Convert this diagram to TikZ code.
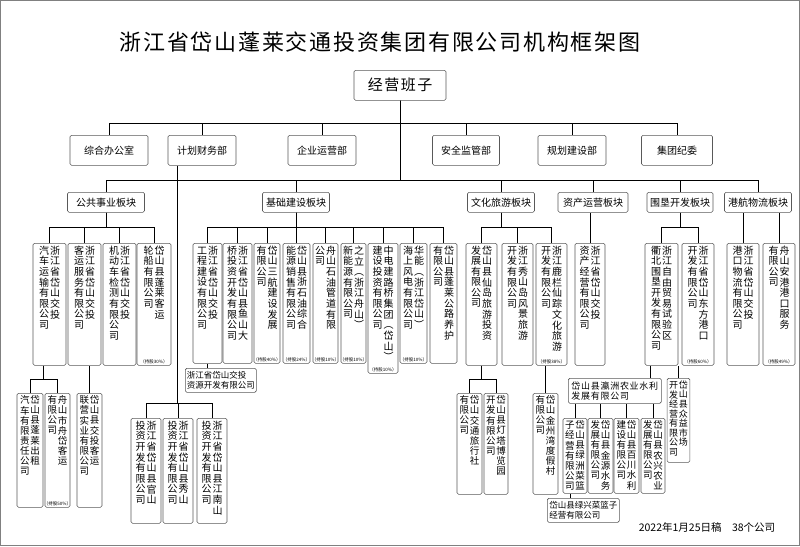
\documentclass[tikz,border=0pt]{standalone}
\usepackage{fontspec}
\setmainfont{Noto Sans CJK SC}
\usetikzlibrary{positioning}

% one vertical column of characters
\def\vcolA#1{\ifx\relax#1\else\hbox to 1.1em{\hss\vrule height .82em depth .23em width 0pt #1\hss}\expandafter\vcolA\fi}
\newcommand\vcol[1]{\vtop{\offinterlineskip\vcolA#1\relax}}
% boxed company with two vertical columns (right one read first)
\newcommand\vn[8][]{\node[vb,#1,minimum width={(#5-#3)*1pt},minimum height={(#6-#4)*1pt}] (#2) at ({(#3+#5)/2},#4)
  {\vbox to \dimexpr #6pt-#4pt-5pt\relax{\hbox{\vcol{#8}\vcol{#7}}\vss}};}

\tikzset{
  org/.style={draw=black!65, line width=0.6pt, rounded corners=1.5pt, fill=white},
  vb/.style={org, anchor=north, inner xsep=1.5pt, inner ysep=2.5pt, font=\fontsize{10}{11}\selectfont},
  low/.style={font=\fontsize{9.5}{10.5}\selectfont},
  hb/.style={org, anchor=north west, align=left, inner sep=1.5pt, font=\fontsize{8.5}{10}\selectfont},
  dept/.style={org, anchor=north, minimum height=30pt, font=\fontsize{10}{12}\selectfont},
  sect/.style={org, anchor=north, minimum height=20pt, inner sep=1pt, font=\fontsize{10}{12}\selectfont},
  pct/.style={anchor=south, inner sep=1.5pt, font=\fontsize{4.5}{5}\selectfont},
  conn/.style={line width=0.9pt, black}
}

\begin{document}
\begin{tikzpicture}[x=1pt,y=-1pt]
\useasboundingbox (0,0) rectangle (800,546);
\draw[black!50, line width=0.8pt] (0.5,0.5) rectangle (799.5,545.5);

\node (title) at (380,42) {\fontsize{22}{24}\selectfont\addfontfeature{LetterSpace=8}浙江省岱山蓬莱交通投资集团有限公司机构框架图};
\node[org, anchor=north, minimum width=92pt, minimum height=30pt, font=\fontsize{15}{17}\selectfont] (ban) at (400,70) {\addfontfeature{LetterSpace=10}经营班子};

\coordinate (b1) at (0,123);
\coordinate (b2) at (0,180);
\coordinate (b3) at (0,227);
\coordinate (b4) at (0,379);
\coordinate (b5) at (0,403);

% departments
\node[dept, minimum width=78pt] (zhb) at (109,135) {综合办公室};
\node[dept, minimum width=68pt] (jcb) at (202,135) {计划财务部};
\node[dept, minimum width=68pt] (yyb) at (322,135) {企业运营部};
\node[dept, minimum width=67pt] (aqb) at (466,135) {安全监管部};
\node[dept, minimum width=68pt] (ghb) at (572,135) {规划建设部};
\node[dept, minimum width=71pt] (jwb) at (677,135) {集团纪委};

% sectors
\node[sect, minimum width=77pt] (ggs) at (106,192) {公共事业板块};
\node[sect, minimum width=67pt] (jss) at (296,192) {基础建设板块};
\node[sect, minimum width=67pt] (wls) at (501,192) {文化旅游板块};
\node[sect, minimum width=70pt] (zcs) at (593,192) {资产运营板块};
\node[sect, minimum width=66pt] (wks) at (680,192) {围垦开发板块};
\node[sect, minimum width=67pt] (hws) at (758,192) {港航物流板块};

% companies
\vn{qc}{33}{243}{66}{365}{浙江省岱山交投}{汽车运输有限公司}
\vn{kf}{68}{243}{101}{365}{浙江省岱山交投}{客运服务有限公司}
\vn{jd}{103}{243}{136}{365}{浙江省岱山交投}{机动车检测有限公司}
\vn[label={[pct]south:（持股30\%）}]{lc}{137}{243}{171}{365}{岱山县蓬莱客运}{轮船有限公司}

\vn{gc}{193}{243}{222}{363}{浙江省岱山交投}{工程建设有限公司}
\vn{yq}{223}{243}{252}{363}{浙江省岱山县鱼山大}{桥投资开发有限公司}
\vn[label={[pct]south:（持股40\%）}]{sh}{254}{243}{280}{363}{岱山三航建设发展}{有限公司}
\vn[label={[pct]south:（持股24\%）}]{zs}{283}{243}{310}{363}{岱山县浙石油综合}{能源销售有限公司}
\vn[label={[pct]south:（持股10\%）}]{gd}{313}{243}{338}{363}{舟山石油管道有限}{公司}
\vn[label={[pct]south:（持股10\%）}]{zl}{341}{243}{366}{363}{之立︵浙江舟山︶}{新能源有限公司}
\vn[label={[pct]south:（持股10\%）}]{zd}{368}{243}{398}{373}{中电建路桥集团︵岱山︶}{建设投资有限公司}
\vn[label={[pct]south:（持股10\%）}]{hn}{400}{243}{427}{363}{华能︵浙江岱山︶}{海上风电有限公司}
\vn{gl}{430}{243}{457}{363}{岱山县蓬莱公路养护}{有限公司}

\vn{xd}{466}{243}{497}{365}{岱山县仙岛旅游投资}{发展有限公司}
\vn{xs}{502}{243}{533}{365}{浙江秀山岛风景旅游}{开发有限公司}
\vn[label={[pct]south:（持股38\%）}]{ll}{536}{243}{567}{365}{浙江鹿栏仙踪文化旅游}{开发有限公司}
\vn{zc}{575}{243}{605}{365}{浙江省岱山交投}{资产经营有限公司}
\vn{qb}{645}{243}{678}{365}{浙江自由贸易试验区}{衢北围垦开发有限公司}
\vn[label={[pct]south:（持股60\%）}]{df}{682}{243}{714}{365}{浙江省岱山东方港口}{开发有限公司}
\vn{gk}{727}{243}{759}{365}{浙江省岱山交投}{港口物流有限公司}
\vn[label={[pct]south:（持股49\%）}]{ag}{763}{243}{795}{365}{舟山安港港口服务}{有限公司}

% lower level
\vn[low]{ca}{17}{393}{43}{507}{岱山县蓬莱出租}{汽车有限责任公司}
\vn[low,label={[pct]south:（持股50\%）}]{cb}{45}{393}{70}{507}{舟山市舟岱客运}{有限公司}
\vn[low]{cc}{77}{393}{102}{507}{岱山县交投客运}{联营实业有限公司}
\vn{gs}{131}{418}{161}{523}{浙江省岱山县官山}{投资开发有限公司}
\vn{xsh}{163}{418}{193}{523}{浙江省岱山县秀山}{投资开发有限公司}
\vn{jn}{197}{418}{227}{523}{浙江省岱山县江南山}{投资开发有限公司}
\vn[low]{lxs}{457}{393}{482}{494}{岱山交通旅行社}{有限公司}
\vn[low]{dt}{484}{393}{508}{494}{岱山县灯塔博览园}{开发有限公司}
\vn[low]{jz}{533}{393}{558}{494}{岱山金州湾度假村}{有限公司}
\vn[font=\fontsize{9}{10}\selectfont]{zy}{668}{378}{689}{462}{岱山县众益市场}{开发经营有限公司}
\vn[low]{lz}{563}{418}{587}{493}{岱山县绿洲菜篮}{子经营有限公司}
\vn[low]{jy}{588}{418}{613}{493}{岱山县金源水务}{发展有限公司}
\vn[low]{bc}{614}{418}{639}{493}{岱山县百川水利}{建设有限公司}
\vn[low]{nx}{641}{418}{665}{493}{岱山县农兴农业}{发展有限公司}

\node[hb, minimum width=71pt, minimum height=24pt] (zyk) at (185,368) {浙江省岱山交投\\资源开发有限公司};
\node[hb, minimum width=93pt, minimum height=25pt, font=\fontsize{9}{10.5}\selectfont] (yz) at (568,378) {\addfontfeature{LetterSpace=8}岱山县瀛洲农业水利\\\addfontfeature{LetterSpace=8}发展有限公司};
\node[hb, minimum width=72pt, minimum height=24pt] (lx) at (547,498) {岱山县绿兴菜篮子\\经营有限公司};

\node (note) at (707,527) {\fontsize{10.5}{12}\selectfont 2022年1月25日稿\quad 38个公司};

% connectors
\foreach \n in {zhb,jcb,yyb,aqb,ghb,jwb}
  \draw[conn] (ban.south) |- (b1 -| \n.north) -- (\n.north);
\foreach \n in {ggs,jss,wls,zcs,wks,hws}
  \draw[conn] (ban.south) |- (b2 -| \n.north) -- (\n.north);
\foreach \n in {qc,kf,jd,lc}
  \draw[conn] (ggs.south) |- (b3 -| \n.north) -- (\n.north);
\foreach \n in {gc,yq,sh,zs,gd,zl,zd,hn,gl}
  \draw[conn] (jss.south) |- (b3 -| \n.north) -- (\n.north);
\foreach \n in {xd,xs,ll}
  \draw[conn] (wls.south) |- (b3 -| \n.north) -- (\n.north);
\foreach \n in {qb,df}
  \draw[conn] (wks.south) |- (b3 -| \n.north) -- (\n.north);
\draw[conn] (zc.north) -- (zc.north |- zcs.south);
\draw[conn] (gk.north) -- (gk.north |- hws.south);
\draw[conn] (ag.north) -- (ag.north |- hws.south);

\draw[conn] ([xshift=10pt]jcb.south west) coordinate (jcl) -- (jcl |- b5);
\foreach \n in {gs,xsh,jn}
  \draw[conn] (jcl |- b5) -| (\n.north);
\foreach \n in {ca,cb}
  \draw[conn] ([xshift=-6pt]qc.south) |- (b4 -| \n.north) -- (\n.north);
\draw[conn] (cc.north) -- (cc.north |- kf.south);
\foreach \n in {lxs,dt}
  \draw[conn] (xd.south) |- (b4 -| \n.north) -- (\n.north);
\draw[conn] (jz.north) -- (jz.north |- ll.south);
\draw[conn] (gc.south) -- (gc.south |- zyk.north);
\draw[conn] ([xshift=-11pt]qb.south) -- ([xshift=-11pt]qb.south |- yz.north);
\draw[conn] (zy.north) -- (zy.north |- qb.south);
\foreach \n in {lz,jy,bc,nx}
  \draw[conn] (\n.north) -- (\n.north |- yz.south);
\draw[conn] ([xshift=-5pt]lz.south) -- ([xshift=-5pt]lz.south |- lx.north);
\end{tikzpicture}
\end{document}
